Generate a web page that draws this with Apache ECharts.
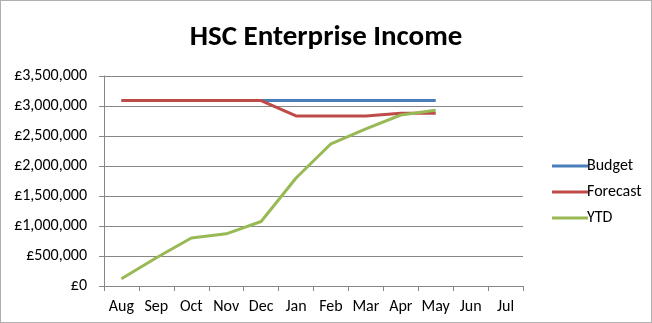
<!DOCTYPE html>
<html>
<head>
<meta charset="utf-8">
<script src="https://cdn.jsdelivr.net/npm/echarts@6/dist/echarts.min.js"></script>
<style>
  html, body { margin: 0; padding: 0; background: #fff; }
  #chart { width: 652px; height: 323px; box-sizing: border-box; border: 1px solid #b0b0b0; }
</style>
</head>
<body>
<div id="chart"></div>
<script>
// Monthly income figures, financial year Aug–Jul
const months = ['Aug', 'Sep', 'Oct', 'Nov', 'Dec', 'Jan', 'Feb', 'Mar', 'Apr', 'May', 'Jun', 'Jul'];
const budget = [3090000, 3090000, 3090000, 3090000, 3090000, 3090000, 3090000, 3090000, 3090000, 3090000, null, null];
const forecast = [3090000, 3090000, 3090000, 3090000, 3090000, 2835000, 2835000, 2835000, 2880000, 2880000, null, null];
const ytd = [120000, 470000, 800000, 870000, 1075000, 1800000, 2370000, 2620000, 2850000, 2930000, null, null];
const yTicks = { min: 0, max: 3500000, interval: 500000 };

const font = 'Carlito, "Open Sans", "Liberation Sans", sans-serif';
const fmt = v => '£' + v.toLocaleString('en-GB');

const chart = echarts.init(document.getElementById('chart'), null, { renderer: 'canvas' });
const lineSeries = (name, data, color) => ({
  name, type: 'line', data, symbol: 'none', smooth: false,
  lineStyle: { color, width: 3 }, itemStyle: { color }
});

chart.setOption({
  animation: false,
  title: {
    text: 'HSC Enterprise Income', left: 'center', top: 22, padding: 0,
    textStyle: { fontFamily: font, fontWeight: 'bold', fontSize: 29, color: '#000' }
  },
  legend: {
    orient: 'vertical', left: 546, top: 152, itemGap: 10,
    itemWidth: 36, itemHeight: 3, icon: 'rect',
    textStyle: { fontFamily: font, fontSize: 16, color: '#000', padding: [0, 0, 0, -6] },
    data: ['Budget', 'Forecast', 'YTD']
  },
  grid: { left: 103, right: 128, top: 75, bottom: 36 },
  xAxis: {
    type: 'category', data: months, boundaryGap: true,
    axisLine: { lineStyle: { color: '#868686', width: 1 } },
    axisTick: { show: true, length: 5, lineStyle: { color: '#868686' } },
    axisLabel: { fontFamily: font, fontSize: 16, color: '#000', margin: 13, interval: 0, hideOverlap: false }
  },
  yAxis: {
    type: 'value', min: yTicks.min, max: yTicks.max, interval: yTicks.interval,
    axisLine: { show: true, lineStyle: { color: '#868686' } },
    axisTick: { show: true, length: 5, lineStyle: { color: '#868686' } },
    splitLine: { lineStyle: { color: '#868686', width: 1 } },
    axisLabel: { fontFamily: font, fontSize: 16, color: '#000', margin: 17, formatter: fmt }
  },
  series: [
    lineSeries('Budget', budget, '#4a7ebb'),
    lineSeries('Forecast', forecast, '#be4b48'),
    lineSeries('YTD', ytd, '#98b954')
  ]
});
</script>
</body>
</html>
